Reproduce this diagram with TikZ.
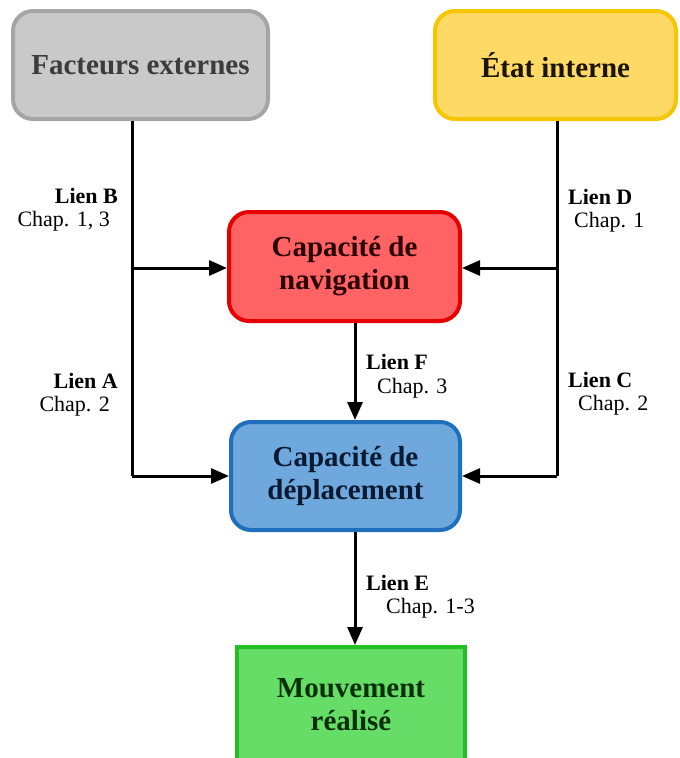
\documentclass[tikz,border=0pt]{standalone}
\usepackage{fontspec}
\setmainfont{Liberation Serif}
\usetikzlibrary{arrows.meta}
\definecolor{grayfill}{HTML}{C9C9C9}
\definecolor{graydraw}{HTML}{A5A5A5}
\definecolor{graytext}{HTML}{3C3C3C}
\definecolor{yelfill}{HTML}{FFD966}
\definecolor{yeldraw}{HTML}{F7C600}
\definecolor{yeltext}{HTML}{1A1400}
\definecolor{redfill}{HTML}{FF6363}
\definecolor{reddraw}{HTML}{E60000}
\definecolor{redtext}{HTML}{2A0000}
\definecolor{bluefill}{HTML}{6FA8DC}
\definecolor{bluedraw}{HTML}{1F6FBF}
\definecolor{bluetext}{HTML}{0A1A33}
\definecolor{grnfill}{HTML}{66DD66}
\definecolor{grndraw}{HTML}{22C022}
\definecolor{grntext}{HTML}{0A300A}
\tikzset{
  box/.style={draw, line width=4pt, rounded corners=20pt, align=center,
    font=\fontsize{29}{33}\selectfont\bfseries, inner sep=0pt},
  lienlbl/.style={font=\fontsize{22}{25}\selectfont\bfseries, inner sep=0pt},
  chaplbl/.style={font=\fontsize{22}{25}\selectfont, inner sep=0pt},
  conn/.style={line width=3pt},
  arr/.style={line width=3pt, -{Triangle[length=18pt,width=15pt]}},
}
\begin{document}
\begin{tikzpicture}[x=1pt,y=1pt]
\useasboundingbox (0,0) rectangle (680,-758);
\clip (0,0) rectangle (680,-758);
\fill[white] (0,0) rectangle (680,-758);

\node[box, fill=grayfill, draw=graydraw, text=graytext, minimum width=255pt, minimum height=108pt] (fe) at (140.5,-65) {Facteurs externes};
\node[box, fill=yelfill, draw=yeldraw, text=yeltext, minimum width=241pt, minimum height=108pt] (ei) at (555.5,-65) {État interne};
\node[box, fill=redfill, draw=reddraw, text=redtext, minimum width=231pt, minimum height=109pt] (nav) at (344.5,-266.5) {Capacité de\\navigation};
\node[box, fill=bluefill, draw=bluedraw, text=bluetext, minimum width=229pt, minimum height=108pt] (dep) at (345.5,-476) {Capacité de\\déplacement};
\node[box, rounded corners=0pt, fill=grnfill, draw=grndraw, text=grntext, minimum width=228pt, minimum height=116pt] (mov) at (351,-705) {Mouvement\\réalisé};

% coordinates of the connector lines
\coordinate (lx) at (132,0);
\coordinate (rx) at (557,0);
\coordinate (cx) at (355,0);
\coordinate (lA) at (132,-476);
\coordinate (rC) at (557,-476);
\coordinate (lB) at (132,-268);
\coordinate (rD) at (557,-268);

\draw[conn] (fe.south -| lx) -- (lA);
\draw[arr] (lA) -- (dep.west |- lA);
\draw[arr] (lB) -- (nav.west |- lB);
\draw[conn] (ei.south -| rx) -- (rC);
\draw[arr] (rC) -- (dep.east |- rC);
\draw[arr] (rD) -- (nav.east |- rD);
\draw[arr] (nav.south -| cx) -- (dep.north -| cx);
\draw[arr] (dep.south -| cx) -- (mov.north -| cx);

% labels
\node[lienlbl, anchor=base east] (lb1) at (118,-203) {Lien B};
\node[chaplbl, anchor=base east] (lb2) at (110,-226) {Chap. 1, 3};
\node[lienlbl, anchor=base east] (la1) at (118,-388) {Lien A};
\node[chaplbl, anchor=base east] (la2) at (110,-411) {Chap. 2};
\node[lienlbl, anchor=base west] (ld1) at (568,-204) {Lien D};
\node[chaplbl, anchor=base west] (ld2) at (574,-227) {Chap. 1};
\node[lienlbl, anchor=base west] (lc1) at (568,-387) {Lien C};
\node[chaplbl, anchor=base west] (lc2) at (578,-410) {Chap. 2};
\node[lienlbl, anchor=base west] (lf1) at (366,-369) {Lien F};
\node[chaplbl, anchor=base west] (lf2) at (377,-393) {Chap. 3};
\node[lienlbl, anchor=base west] (le1) at (366,-590) {Lien E};
\node[chaplbl, anchor=base west] (le2) at (386,-613) {Chap. 1-3};
\end{tikzpicture}
\end{document}
